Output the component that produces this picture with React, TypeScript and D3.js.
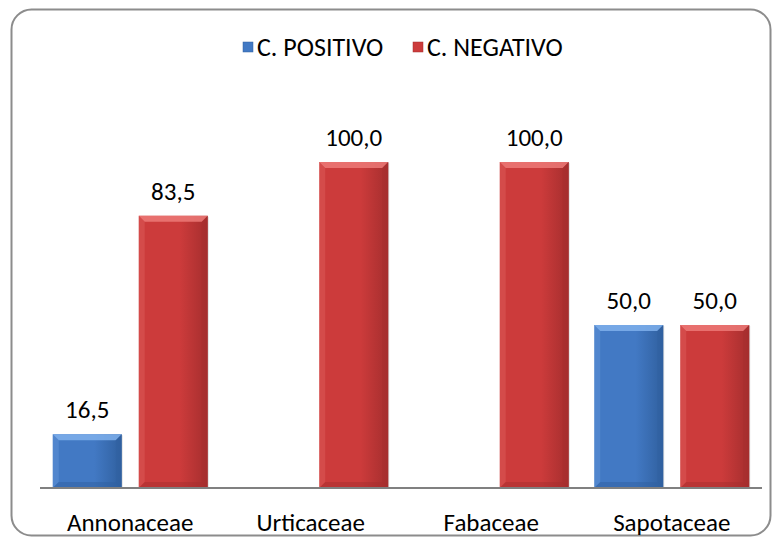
import React from "react";
import * as d3 from "d3";

const categories = ["Annonaceae", "Urticaceae", "Fabaceae", "Sapotaceae"];
const seriesNames = ["C. POSITIVO", "C. NEGATIVO"];
const positivo = [16.5, 0, 0, 50.0];
const negativo = [83.5, 100.0, 100.0, 50.0];
const seriesValues = [positivo, negativo];

const W = 782, H = 544;
const plot = { left: 40, right: 762, top: 70, bottom: 488 };
const colors = [
  { base: "#4279c4", light: "#7fb0ec", dark: "#30609f" },
  { base: "#cc3b3b", light: "#ec7a78", dark: "#a52e2e" },
];

function fmt(v: number) {
  return v.toFixed(1).replace(".", ",");
}

function Bar({ x, y, w, h, c, id }: any) {
  if (h <= 0) return null;
  const b = Math.min(6, h / 2);
  return (
    <g>
      <rect x={x + 1} y={y + 1} width={w} height={h} fill="#000" opacity={0.12} />
      <rect x={x} y={y} width={w} height={h} fill={`url(#g${id})`} />
      <polygon points={`${x},${y} ${x + w},${y} ${x + w - b},${y + b} ${x + b},${y + b}`} fill={c.light} opacity={0.85} />
      <polygon points={`${x},${y} ${x + b},${y + b} ${x + b},${y + h - b} ${x},${y + h}`} fill={c.light} opacity={0.25} />
      <polygon points={`${x + w},${y} ${x + w - b},${y + b} ${x + w - b},${y + h - b} ${x + w},${y + h}`} fill={c.dark} opacity={0.5} />
      <polygon points={`${x},${y + h} ${x + b},${y + h - b} ${x + w - b},${y + h - b} ${x + w},${y + h}`} fill={c.dark} opacity={0.5} />
    </g>
  );
}

export default function App() {
  const x0 = d3.scaleBand<string>().domain(categories).range([plot.left, plot.right]);
  const y = d3.scaleLinear().domain([0, 100]).range([plot.bottom, 162]);
  const barW = 69, gap = 17;
  const font = "Carlito, 'Open Sans', 'Liberation Sans', sans-serif";
  return (
    <svg width={W} height={H} style={{ position: "absolute", left: 0, top: 0 }}>
      <defs>
        {colors.map((c, i) => (
          <linearGradient key={i} id={`g${i}`} x1="0" y1="0" x2="1" y2="0">
            <stop offset="0" stopColor={c.base} />
            <stop offset="0.6" stopColor={c.base} />
            <stop offset="1" stopColor={c.dark} />
          </linearGradient>
        ))}
      </defs>
      <rect x={0} y={0} width={W} height={H} fill="#fff" />
      <rect x={11.5} y={9.5} width={759} height={526} rx={20} ry={20} fill="#fff" stroke="#8c8c8c" strokeWidth={2} />
      {categories.map((cat, ci) => {
        const cx = (x0(cat) as number) + x0.bandwidth() / 2;
        return (
          <g key={cat}>
            {seriesValues.map((vals, si) => {
              const v = vals[ci];
              if (!v) return null;
              const bx = si === 0 ? cx - gap / 2 - barW : cx + gap / 2;
              const by = y(v);
              return (
                <g key={si}>
                  <Bar x={bx} y={by} w={barW} h={plot.bottom - by} c={colors[si]} id={si} />
                  <text x={bx + barW / 2} y={by - 16} textAnchor="middle" fontFamily={font} fontSize={25} fill="#000">
                    {fmt(v)}
                  </text>
                </g>
              );
            })}
            <text x={cx} y={531} textAnchor="middle" fontFamily={font} fontSize={25} fill="#000">
              {cat}
            </text>
          </g>
        );
      })}
      <line x1={plot.left} x2={plot.right} y1={plot.bottom} y2={plot.bottom} stroke="#808080" strokeWidth={2} />
      {seriesNames.map((name, si) => {
        const lx = si === 0 ? 243 : 413;
        return (
          <g key={name}>
            <rect x={lx} y={42} width={10} height={10} fill={colors[si].base} stroke={colors[si].dark} strokeWidth={0.5} />
            <text x={lx + 14} y={56} fontFamily={font} fontSize={26} fill="#000">
              {name}
            </text>
          </g>
        );
      })}
    </svg>
  );
}
